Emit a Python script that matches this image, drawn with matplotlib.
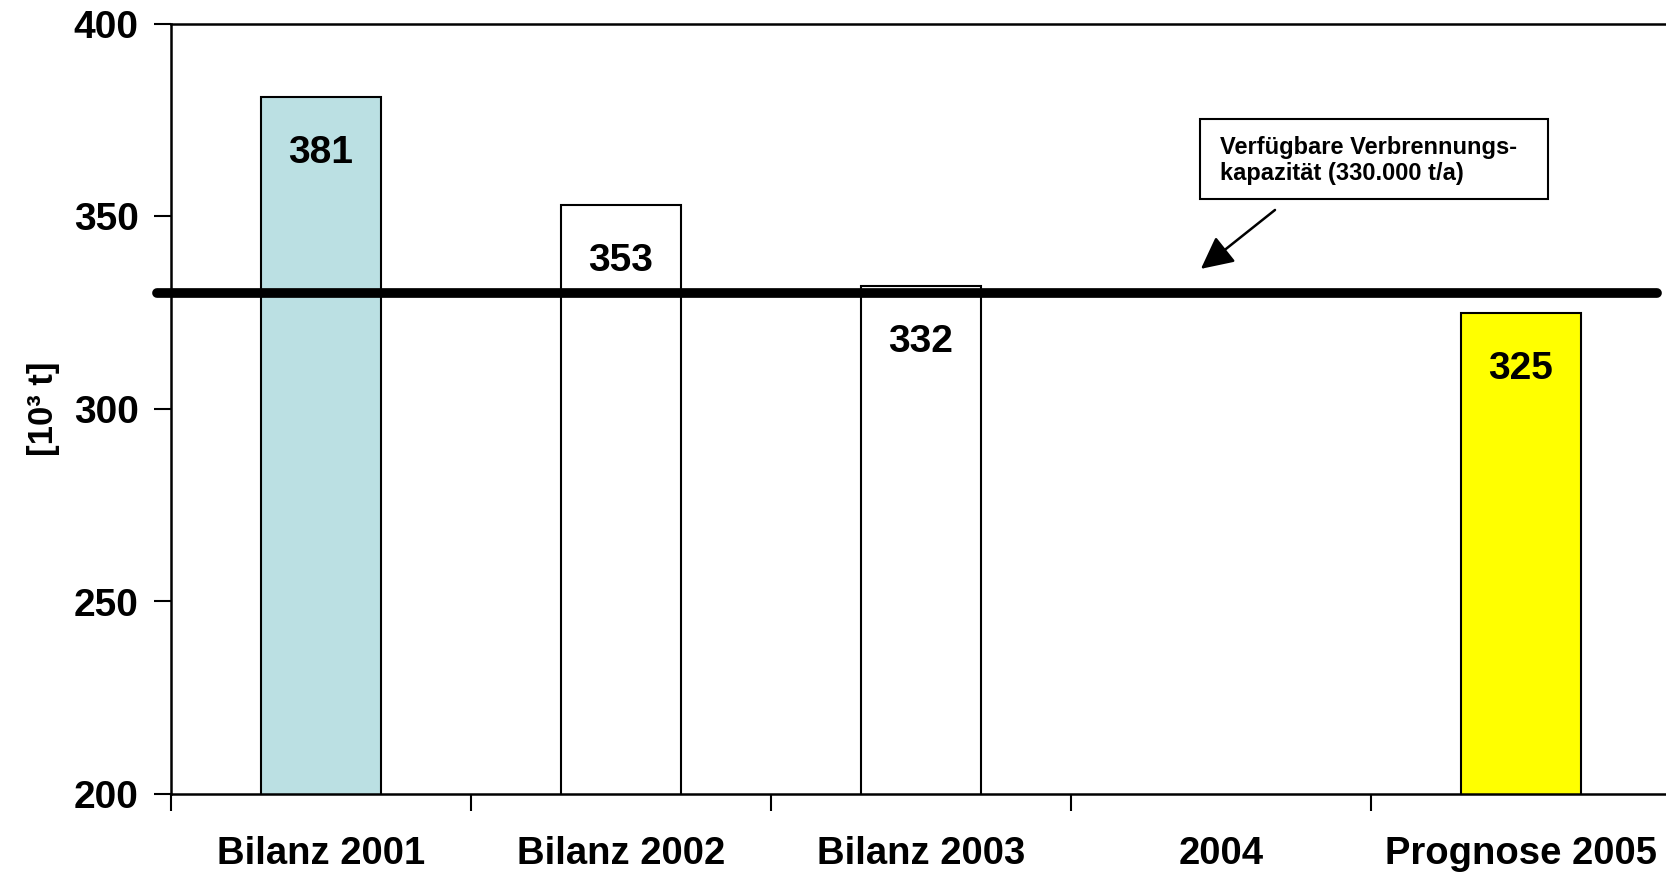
import matplotlib
matplotlib.use("Agg")
import matplotlib.pyplot as plt
from matplotlib.patches import Rectangle
import numpy as np

categories = ["Bilanz 2001", "Bilanz 2002", "Bilanz 2003", "2004", "Prognose 2005"]
values = [381, 353, 332, None, 325]
bar_colors = ["#BBE0E3", "#FFFFFF", "#FFFFFF", "#FFFFFF", "#FFFF00"]
capacity = 330
yticks = [200, 250, 300, 350, 400]
annot_text = "Verfügbare Verbrennungs-\nkapazität (330.000 t/a)"
ylabel = "[10³ t]"

plt.rcParams['font.family'] = ['Liberation Sans', 'DejaVu Sans']
plt.rcParams['font.weight'] = 'bold'

W, H = 1666, 872
fig = plt.figure(figsize=(W / 100, H / 100), dpi=100)
ax = fig.add_axes([170.7 / W, (H - 794) / H, 1500 / W, 770 / H])

x = np.arange(len(categories))
for i, v in enumerate(values):
    if v is None:
        continue
    ax.bar(i, v, width=0.4, color=bar_colors[i], edgecolor="black", linewidth=1.5, zorder=2)
    ax.text(i, v - 14.5, str(v), ha="center", va="center", fontsize=28, fontweight="bold", zorder=4)

ax.set_xlim(-0.5, len(categories) - 0.5)
ax.set_ylim(200, 400)
ax.set_yticks(yticks)
ax.set_yticklabels([str(t) for t in yticks], fontsize=28, fontweight="bold")
ax.set_xticks(np.arange(len(categories) + 1) - 0.5)
ax.set_xticklabels([])
ax.set_xticks(x, minor=True)
ax.set_xticklabels(categories, minor=True, fontsize=27.5, fontweight="bold")
ax.tick_params(axis="x", which="minor", length=0, pad=30)
ax.tick_params(axis="x", which="major", length=12, width=1.5, direction="out")
ax.tick_params(axis="y", length=12, width=1.5, direction="out", pad=11)

for s in ["left", "bottom", "top", "right"]:
    ax.spines[s].set_linewidth(1.8)

ax.plot([-0.545, 4.455], [capacity, capacity], color="black", linewidth=7,
        solid_capstyle="round", clip_on=False, zorder=5)

ax.set_ylabel(ylabel, fontsize=25, fontweight="bold", labelpad=10)

ax.add_patch(Rectangle((2.931, 354.5), 4.091 - 2.931, 375.3 - 354.5, facecolor="white",
                       edgecolor="black", linewidth=1.5, zorder=6))
ax.text(2.998, 364.6, annot_text, ha="left", va="center", fontsize=17, fontweight="bold",
        linespacing=1.15, zorder=7)
ax.annotate("", xy=(2.934, 336.4), xytext=(3.181, 351.7),
            arrowprops=dict(arrowstyle="-|>,head_length=0.9,head_width=0.45", color="black",
                            lw=1.8, mutation_scale=22, shrinkA=0, shrinkB=0), zorder=6)

fig.savefig("out.png", dpi=100)
